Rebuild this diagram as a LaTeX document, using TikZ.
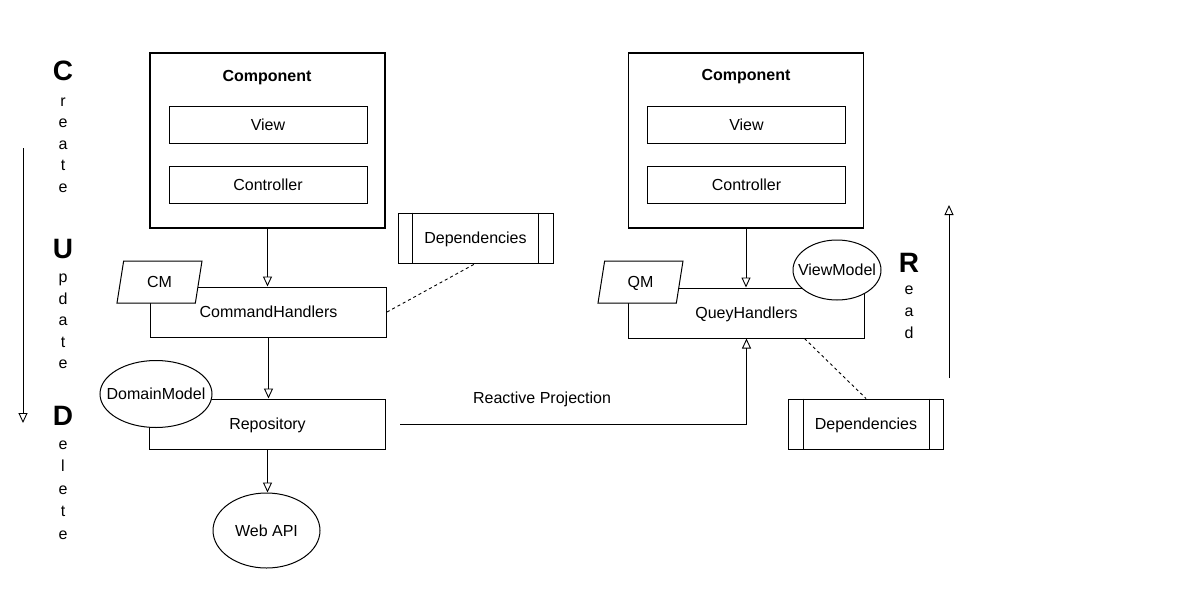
\documentclass[tikz,border=0pt]{standalone}
\usepackage{fontspec}
\setmainfont{Liberation Sans}
\usetikzlibrary{positioning, arrows.meta, shapes.geometric}

\begin{document}
\begin{tikzpicture}[
    x=1pt, y=-1pt,
    every node/.style={font=\fontsize{16}{19}\selectfont, text height=11.5pt, text depth=0pt},
    % Styles
    frame/.style={draw, line width=1.4pt, minimum width=235pt, minimum height=175pt},
    part/.style={draw, line width=1pt, minimum width=198pt, minimum height=37pt},
    handler/.style={draw, line width=1pt, minimum width=236pt, minimum height=50pt},
    process/.style={draw, line width=1pt, minimum width=155pt, minimum height=50pt},
    model/.style={draw, fill=white, line width=1pt, trapezium, trapezium left angle=60, trapezium right angle=120, trapezium stretches body, minimum width=85pt, minimum height=42pt, inner sep=0pt},
    entity/.style={draw, fill=white, line width=1pt, ellipse, inner sep=0pt},
    flow/.style={-{Triangle[open, length=10pt, width=9pt]}, line width=0.9pt},
    link/.style={dashed, line width=0.9pt},
    initial/.style={font=\fontsize{28}{30}\selectfont\bfseries, anchor=base},
    letter/.style={anchor=base},
]
\useasboundingbox (0,0) rectangle (1189,603);

% Write side: component
\node[frame] (comp-w) at (267.5,140.5) {};
\node[font=\fontsize{16}{19}\selectfont\bfseries] (comp-w-title) at (267,76) {Component};
\node[part] (view-w) at (268,124.5) {View};
\node[part] (ctrl-w) at (268,184.5) {Controller};

% Write side: handlers and storage
\node[handler] (cmd) at (268.5,312) {CommandHandlers};
\node[handler] (repo) at (267.5,424) {Repository};
\node[process] (deps-w) at (475.5,238) {Dependencies};
\node[model] (cm) at (159.5,282) {CM};
\node[entity, minimum width=112pt, minimum height=67pt, label={center:DomainModel}] (domain) at (156,394) {};
\node[entity, minimum width=107pt, minimum height=75pt] (api) at (266.5,530.5) {Web API};

% Read side: component
\node[frame] (comp-r) at (746,140.5) {};
\node[font=\fontsize{16}{19}\selectfont\bfseries] (comp-r-title) at (746,75) {Component};
\node[part] (view-r) at (746.5,124.5) {View};
\node[part] (ctrl-r) at (746.5,184.5) {Controller};

% Read side: handlers
\node[handler] (query) at (746.5,313) {QueyHandlers};
\node[process] (deps-r) at (866,424) {Dependencies};
\node[model] (qm) at (640.5,282) {QM};
\node[entity, minimum width=88pt, minimum height=60pt, label={center:ViewModel}] (viewmodel) at (837,270) {};

% Process bars
\foreach \d in {deps-w, deps-r} {
    \draw[line width=1pt] ([xshift=15pt]\d.north west) -- ([xshift=15pt]\d.south west);
    \draw[line width=1pt] ([xshift=-15pt]\d.north east) -- ([xshift=-15pt]\d.south east);
}

% Connectors
\draw[flow] (comp-w.south) -- (comp-w.south |- cmd.north);
\draw[flow] (cmd.south) -- (cmd.south |- repo.north);
\draw[flow] (repo.south) -- (repo.south |- api.north);
\draw[flow] (comp-r.south) -- (comp-r.south |- query.north);
\coordinate (proj-start) at ([xshift=14pt]repo.east);
\draw[flow] (proj-start) -| node[pos=0.205, above=17pt] (proj-label) {Reactive Projection} (query.south);
\draw[link] (cmd.east) -- (deps-w.south);
\draw[link] ([xshift=58pt]query.south) -- (deps-r.north);

% CRUD letters
\node[initial] (c) at (63,80) {C};
\foreach \ch [count=\i] in {r,e,a,t,e}
    \node[letter] (create-\i) at (63, 84.5+21.5*\i) {\ch};
\node[initial] (u) at (63,258) {U};
\foreach \ch [count=\i] in {p,d,a,t,e}
    \node[letter] (update-\i) at (63, 261+21.5*\i) {\ch};
\node[initial] (d) at (63,425) {D};
\foreach \ch [count=\i] in {e,l,e,t,e}
    \node[letter] (delete-\i) at (63, 426.5+22.5*\i) {\ch};
\node[initial] (r) at (909,272) {R};
\foreach \ch [count=\i] in {e,a,d}
    \node[letter] (read-\i) at (909, 272+22*\i) {\ch};

% Direction arrows
\coordinate (cud-top) at (23,148);
\coordinate (cud-bottom) at (23,423);
\draw[flow] (cud-top) -- (cud-bottom);
\coordinate (read-bottom) at (949,378);
\coordinate (read-top) at (949,205);
\draw[flow] (read-bottom) -- (read-top);

\end{tikzpicture}
\end{document}
